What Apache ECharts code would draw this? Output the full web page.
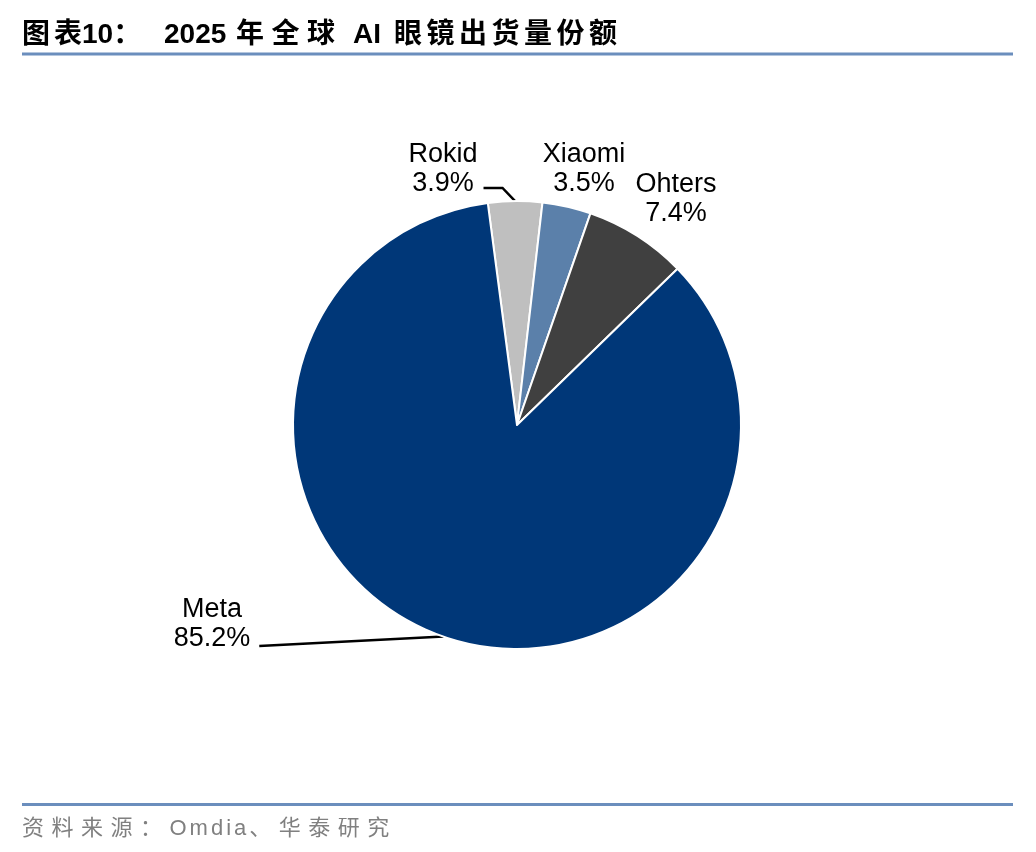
<!DOCTYPE html>
<html>
<head>
<meta charset="utf-8">
<script src="https://cdn.jsdelivr.net/npm/echarts@6/dist/echarts.min.js"></script>
<style>
  html, body { margin: 0; padding: 0; background: #fff; }
  #chart { width: 1036px; height: 852px; }
</style>
</head>
<body>
<div id="chart"></div>
<script>
// data
const brands = ['Rokid', 'Xiaomi', 'Ohters', 'Meta'];
const shares = [3.9, 3.5, 7.4, 85.2];
const sliceColors = ['#bfbfbf', '#5b80aa', '#404040', '#003778'];

// title pieces: text, left x, extra spacing per char
const titleParts = [
  ['图表', 22, 4],
  ['10：', 82, 0],
  ['2025', 164, 0],
  ['年全球', 236, 7.5],
  ['AI', 353, 0],
  ['眼镜出货量份额', 394, 4.5],
];
const sourceText = '资料来源：Omdia、华泰研究';

// where each label sits (layout only)
const labelSpots = {
  Rokid: [443, 169],
  Xiaomi: [584, 169],
  Ohters: [676, 199],
  Meta: [212, 624],
};

const chart = echarts.init(document.getElementById('chart'));
const lineBlue = '#6b8ebd';

// the report spaces its characters out, zrender has no letter spacing
const measure = document.createElement('canvas').getContext('2d');
function spacedText(str, x, y, font, cjkGap, latinGap, fill) {
  measure.font = font;
  const out = [];
  let cx = x;
  for (const ch of str) {
    const cjk = ch.charCodeAt(0) > 0x2e80;
    out.push({
      type: 'text', x: cx, y: y,
      style: { text: ch, font: font, fill: fill, textVerticalAlign: 'middle' },
    });
    cx += measure.measureText(ch).width + (cjk ? cjkGap : latinGap);
  }
  return out;
}

const titleFont = 'bold 28px "Liberation Sans", "Noto Sans CJK SC", sans-serif';
const sourceFont = '22px "Liberation Sans", "Noto Sans CJK SC", sans-serif';

let titleEls = [];
titleParts.forEach(([t, x, g]) => {
  titleEls = titleEls.concat(spacedText(t, x, 35, titleFont, g, g, '#000'));
});

const option = {
  backgroundColor: '#fff',
  animation: false,
  graphic: [].concat(
    titleEls,
    [
      {
        type: 'rect', shape: { x: 22, y: 52.5, width: 991, height: 3 },
        style: { fill: lineBlue },
      },
      {
        type: 'rect', shape: { x: 22, y: 803, width: 991, height: 3 },
        style: { fill: lineBlue },
      },
    ],
    spacedText(sourceText, 22, 829, sourceFont, 7.5, 3, '#808080')
  ),
  series: [
    {
      type: 'pie',
      center: [517, 425],
      radius: [0, 224],
      startAngle: 97.5,
      clockwise: true,
      avoidLabelOverlap: false,
      itemStyle: { borderColor: '#fff', borderWidth: 2 },
      label: {
        show: true,
        position: 'outside',
        formatter: p => p.name + '\n' + p.value.toFixed(1) + '%',
        fontFamily: '"Liberation Sans", Arial, sans-serif',
        fontSize: 27,
        lineHeight: 29,
        color: '#000',
        align: 'center',
      },
      labelLine: {
        show: true,
        length: 10,
        length2: 10,
        lineStyle: { color: '#000', width: 2.5 },
      },
      labelLayout: params => {
        const name = brands[params.dataIndex];
        const [x, y] = labelSpots[name];
        const w = params.labelRect.width;
        const h = params.labelRect.height;
        const tip = params.labelLinePoints ? params.labelLinePoints[0] : null;
        const out = { x: x, y: y, align: 'center', verticalAlign: 'middle' };
        if (name === 'Rokid' && tip) {
          const sx = x + w / 2 + 6;
          const sy = y + h / 2 - 10;
          out.labelLinePoints = [[sx, sy], [sx + 19, sy], [tip[0], tip[1]]];
        } else if (name === 'Meta' && tip) {
          out.labelLinePoints = [[x + w / 2 + 9, y + h / 2 - 7], [tip[0], tip[1]], [tip[0], tip[1]]];
        }
        return out;
      },
      data: brands.map((b, i) => ({
        name: b,
        value: shares[i],
        itemStyle: { color: sliceColors[i] },
        labelLine: { show: b === 'Rokid' || b === 'Meta' },
      })),
    },
  ],
};

chart.setOption(option);
</script>
</body>
</html>
